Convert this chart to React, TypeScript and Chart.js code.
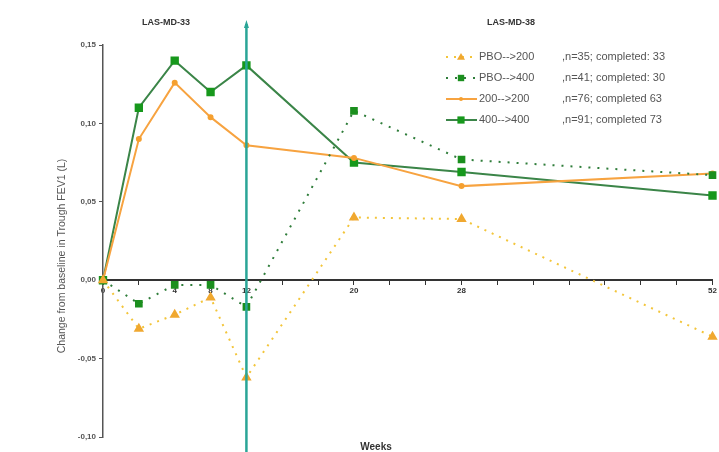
import React, { useEffect, useRef } from "react";
import { Chart, registerables } from "chart.js";

Chart.register(...registerables);

const weekLabels = ["0", "", "4", "8", "12", "", "", "20", "", "", "28", "", "", "", "", "", "", "52"];
const pbo200 = [0, -0.031, -0.022, -0.011, -0.062, null, null, 0.040, null, null, 0.039, null, null, null, null, null, null, -0.036];
const pbo400 = [0, -0.015, -0.003, -0.003, -0.017, null, null, 0.108, null, null, 0.077, null, null, null, null, null, null, 0.067];
const d200 = [0, 0.090, 0.126, 0.104, 0.086, null, null, 0.078, null, null, 0.060, null, null, null, null, null, null, 0.068];
const d400 = [0, 0.110, 0.140, 0.120, 0.137, null, null, 0.075, null, null, 0.069, null, null, null, null, null, null, 0.054];
const seriesNames = ["PBO-->200", "PBO-->400", "200-->200", "400-->400"];
const seriesNotes = [",n=35; completed: 33", ",n=41; completed: 30", ",n=76; completed 63", ",n=91; completed 73"];
const yTicks = [0.15, 0.10, 0.05, 0.0, -0.05, -0.10];
const studyTitles = ["LAS-MD-33", "LAS-MD-38"];
const yTitle = "Change from baseline in Trough FEV1 (L)";
const xTitle = "Weeks";
const markerWeekIndex = 4;

const overlay = {
  id: "overlay",
  afterDatasetsDraw(chart: any) {
    const { ctx, scales } = chart;
    const x = scales.x.getPixelForValue(markerWeekIndex);
    ctx.save();
    ctx.strokeStyle = "#2aa597";
    ctx.lineWidth = 2.5;
    ctx.beginPath();
    ctx.moveTo(x, 24);
    ctx.lineTo(x, 452);
    ctx.stroke();
    ctx.fillStyle = "#2aa597";
    ctx.beginPath();
    ctx.moveTo(x, 20);
    ctx.lineTo(x - 2.5, 28);
    ctx.lineTo(x + 2.5, 28);
    ctx.closePath();
    ctx.fill();

    ctx.fillStyle = "#333";
    ctx.font = "bold 9px 'Liberation Sans', Arial, sans-serif";
    ctx.textAlign = "center";
    ctx.textBaseline = "middle";
    ctx.fillText(studyTitles[0], 166, 23);
    ctx.fillText(studyTitles[1], 511, 23);

    ctx.font = "bold 10px 'Liberation Sans', Arial, sans-serif";
    ctx.fillText(xTitle, 376, 447);

    ctx.save();
    ctx.translate(62, 256);
    ctx.rotate(-Math.PI / 2);
    ctx.fillStyle = "#555";
    ctx.font = "10.5px 'Liberation Sans', Arial, sans-serif";
    ctx.fillText(yTitle, 0, 0);
    ctx.restore();

    // legend
    const rowsY = [57, 78, 99, 120];
    chart.data.datasets.forEach((ds: any, i: number) => {
      const y = rowsY[i];
      ctx.strokeStyle = ds.borderColor;
      ctx.lineWidth = ds.borderWidth;
      ctx.setLineDash(ds.borderDash || []);
      ctx.beginPath();
      ctx.moveTo(446, y);
      ctx.lineTo(477, y);
      ctx.stroke();
      ctx.setLineDash([]);
      ctx.fillStyle = ds.pointBackgroundColor;
      const r = ds.pointRadius;
      if (ds.pointStyle === "triangle") {
        ctx.beginPath();
        ctx.moveTo(461, y - r);
        ctx.lineTo(461 - r, y + r * 0.7);
        ctx.lineTo(461 + r, y + r * 0.7);
        ctx.closePath();
        ctx.fill();
      } else if (ds.pointStyle === "rect") {
        ctx.fillRect(461 - r * 0.8, y - r * 0.8, r * 1.6, r * 1.6);
      } else {
        ctx.beginPath();
        ctx.arc(461, y, r, 0, Math.PI * 2);
        ctx.fill();
      }
      ctx.fillStyle = "#555";
      ctx.font = "11px 'Liberation Sans', Arial, sans-serif";
      ctx.textAlign = "left";
      ctx.fillText(seriesNames[i], 479, y);
      ctx.fillText(seriesNotes[i], 562, y);
    });
    ctx.restore();
  },
};

export default function App() {
  const ref = useRef<HTMLCanvasElement>(null);
  useEffect(() => {
    const chart = new Chart(ref.current!, {
      type: "line",
      data: {
        labels: weekLabels,
        datasets: [
          {
            label: seriesNames[0],
            data: pbo200,
            borderColor: "#f3c53a",
            borderWidth: 2,
            borderDash: [2, 6],
            pointStyle: "triangle",
            pointRadius: 4,
            pointBackgroundColor: "#f0a830",
            pointBorderColor: "#f0a830",
            spanGaps: true,
          },
          {
            label: seriesNames[1],
            data: pbo400,
            borderColor: "#2f7d3a",
            borderWidth: 2,
            borderDash: [2, 7],
            pointStyle: "rect",
            pointRadius: 4,
            pointBackgroundColor: "#1b8f1e",
            pointBorderColor: "#1b8f1e",
            spanGaps: true,
          },
          {
            label: seriesNames[2],
            data: d200,
            borderColor: "#f7a340",
            borderWidth: 2,
            pointStyle: "circle",
            pointRadius: 2,
            pointBackgroundColor: "#f5a030",
            pointBorderColor: "#f5a030",
            spanGaps: true,
          },
          {
            label: seriesNames[3],
            data: d400,
            borderColor: "#3b8548",
            borderWidth: 2,
            pointStyle: "rect",
            pointRadius: 4.5,
            pointBackgroundColor: "#17981c",
            pointBorderColor: "#17981c",
            spanGaps: true,
          },
        ],
      },
      options: {
        animation: false,
        responsive: false,
        maintainAspectRatio: false,
        layout: { padding: { top: 45, bottom: 15, right: 2, left: 0 } },
        plugins: { legend: { display: false }, tooltip: { enabled: false } },
        scales: {
          x: {
            type: "category",
            position: { y: 0 },
            grid: { display: true, drawOnChartArea: false, drawTicks: true, tickLength: 4, color: "#333" },
            border: { display: true, color: "#333", width: 2 },
            ticks: {
              autoSkip: false,
              maxRotation: 0,
              color: "#333",
              padding: 2,
              font: { size: 8, weight: "bold", family: "'Liberation Sans', Arial, sans-serif" },
            },
          },
          y: {
            type: "linear",
            min: -0.1,
            max: 0.15,
            afterFit(scale: any) {
              scale.width = 103;
            },
            afterBuildTicks(scale: any) {
              scale.ticks = yTicks.map((v) => ({ value: v }));
            },
            grid: { display: true, drawOnChartArea: false, drawTicks: true, tickLength: 4, color: "#555" },
            border: { display: true, color: "#555", width: 1.5 },
            ticks: {
              color: "#555",
              padding: 3,
              font: { size: 8, weight: "bold", family: "'Liberation Sans', Arial, sans-serif" },
              callback: (v: any) => Number(v).toFixed(2).replace(".", ","),
            },
            title: { display: false },
          },
        },
      },
      plugins: [overlay],
    });
    return () => chart.destroy();
  }, []);
  return (
    <div style={{ position: "fixed", left: 0, top: 0, width: 719, height: 452, background: "#fff" }}>
      <canvas ref={ref} width={719} height={452} style={{ width: 719, height: 452 }} />
    </div>
  );
}
